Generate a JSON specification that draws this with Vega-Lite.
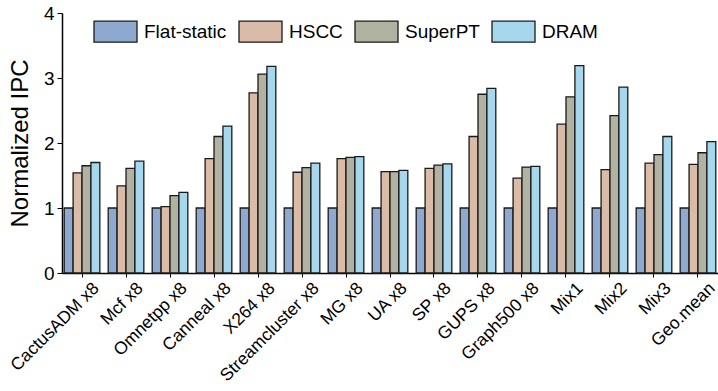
{
  "$schema": "https://vega.github.io/schema/vega-lite/v6.json",
  "autosize": "none",
  "width": 656,
  "height": 260,
  "padding": {"left": 62, "top": 13, "right": 0, "bottom": 118},
  "background": "white",
  "config": {
    "font": "Liberation Sans",
    "view": {"stroke": null}
  },
  "data": {
    "values": [
      {"bench": "CactusADM x8", "scheme": "Flat-static", "ipc": 1.0},
      {"bench": "CactusADM x8", "scheme": "HSCC", "ipc": 1.54},
      {"bench": "CactusADM x8", "scheme": "SuperPT", "ipc": 1.65},
      {"bench": "CactusADM x8", "scheme": "DRAM", "ipc": 1.70},
      {"bench": "Mcf x8", "scheme": "Flat-static", "ipc": 1.0},
      {"bench": "Mcf x8", "scheme": "HSCC", "ipc": 1.34},
      {"bench": "Mcf x8", "scheme": "SuperPT", "ipc": 1.61},
      {"bench": "Mcf x8", "scheme": "DRAM", "ipc": 1.72},
      {"bench": "Omnetpp x8", "scheme": "Flat-static", "ipc": 1.0},
      {"bench": "Omnetpp x8", "scheme": "HSCC", "ipc": 1.02},
      {"bench": "Omnetpp x8", "scheme": "SuperPT", "ipc": 1.19},
      {"bench": "Omnetpp x8", "scheme": "DRAM", "ipc": 1.24},
      {"bench": "Canneal x8", "scheme": "Flat-static", "ipc": 1.0},
      {"bench": "Canneal x8", "scheme": "HSCC", "ipc": 1.76},
      {"bench": "Canneal x8", "scheme": "SuperPT", "ipc": 2.10},
      {"bench": "Canneal x8", "scheme": "DRAM", "ipc": 2.26},
      {"bench": "X264 x8", "scheme": "Flat-static", "ipc": 1.0},
      {"bench": "X264 x8", "scheme": "HSCC", "ipc": 2.77},
      {"bench": "X264 x8", "scheme": "SuperPT", "ipc": 3.06},
      {"bench": "X264 x8", "scheme": "DRAM", "ipc": 3.18},
      {"bench": "Streamcluster x8", "scheme": "Flat-static", "ipc": 1.0},
      {"bench": "Streamcluster x8", "scheme": "HSCC", "ipc": 1.55},
      {"bench": "Streamcluster x8", "scheme": "SuperPT", "ipc": 1.62},
      {"bench": "Streamcluster x8", "scheme": "DRAM", "ipc": 1.69},
      {"bench": "MG x8", "scheme": "Flat-static", "ipc": 1.0},
      {"bench": "MG x8", "scheme": "HSCC", "ipc": 1.76},
      {"bench": "MG x8", "scheme": "SuperPT", "ipc": 1.78},
      {"bench": "MG x8", "scheme": "DRAM", "ipc": 1.79},
      {"bench": "UA x8", "scheme": "Flat-static", "ipc": 1.0},
      {"bench": "UA x8", "scheme": "HSCC", "ipc": 1.56},
      {"bench": "UA x8", "scheme": "SuperPT", "ipc": 1.56},
      {"bench": "UA x8", "scheme": "DRAM", "ipc": 1.58},
      {"bench": "SP x8", "scheme": "Flat-static", "ipc": 1.0},
      {"bench": "SP x8", "scheme": "HSCC", "ipc": 1.61},
      {"bench": "SP x8", "scheme": "SuperPT", "ipc": 1.66},
      {"bench": "SP x8", "scheme": "DRAM", "ipc": 1.68},
      {"bench": "GUPS x8", "scheme": "Flat-static", "ipc": 1.0},
      {"bench": "GUPS x8", "scheme": "HSCC", "ipc": 2.10},
      {"bench": "GUPS x8", "scheme": "SuperPT", "ipc": 2.75},
      {"bench": "GUPS x8", "scheme": "DRAM", "ipc": 2.84},
      {"bench": "Graph500 x8", "scheme": "Flat-static", "ipc": 1.0},
      {"bench": "Graph500 x8", "scheme": "HSCC", "ipc": 1.46},
      {"bench": "Graph500 x8", "scheme": "SuperPT", "ipc": 1.63},
      {"bench": "Graph500 x8", "scheme": "DRAM", "ipc": 1.64},
      {"bench": "Mix1", "scheme": "Flat-static", "ipc": 1.0},
      {"bench": "Mix1", "scheme": "HSCC", "ipc": 2.29},
      {"bench": "Mix1", "scheme": "SuperPT", "ipc": 2.71},
      {"bench": "Mix1", "scheme": "DRAM", "ipc": 3.19},
      {"bench": "Mix2", "scheme": "Flat-static", "ipc": 1.0},
      {"bench": "Mix2", "scheme": "HSCC", "ipc": 1.59},
      {"bench": "Mix2", "scheme": "SuperPT", "ipc": 2.42},
      {"bench": "Mix2", "scheme": "DRAM", "ipc": 2.86},
      {"bench": "Mix3", "scheme": "Flat-static", "ipc": 1.0},
      {"bench": "Mix3", "scheme": "HSCC", "ipc": 1.69},
      {"bench": "Mix3", "scheme": "SuperPT", "ipc": 1.82},
      {"bench": "Mix3", "scheme": "DRAM", "ipc": 2.10},
      {"bench": "Geo.mean", "scheme": "Flat-static", "ipc": 1.0},
      {"bench": "Geo.mean", "scheme": "HSCC", "ipc": 1.67},
      {"bench": "Geo.mean", "scheme": "SuperPT", "ipc": 1.85},
      {"bench": "Geo.mean", "scheme": "DRAM", "ipc": 2.02}
    ]
  },
  "mark": {"type": "bar", "stroke": "#1a1a1a", "strokeWidth": 1.3},
  "encoding": {
    "x": {
      "field": "bench",
      "type": "nominal",
      "sort": null,
      "scale": {"paddingInner": 0.19, "paddingOuter": 0.05},
      "axis": {
        "title": null,
        "labelAngle": -45,
        "labelFontSize": 17.5,
        "labelColor": "black",
        "labelPadding": 2,
        "labelOffset": 8,
        "domainColor": "black",
        "domainWidth": 1.5,
        "tickColor": "black",
        "tickSize": 4
      }
    },
    "xOffset": {
      "field": "scheme",
      "type": "nominal",
      "sort": ["Flat-static", "HSCC", "SuperPT", "DRAM"],
      "scale": {"paddingInner": 0, "paddingOuter": 0}
    },
    "y": {
      "field": "ipc",
      "type": "quantitative",
      "scale": {"domain": [0, 4], "nice": false},
      "axis": {
        "title": "Normalized IPC",
        "titleFontSize": 24,
        "titleFontWeight": "normal",
        "titleColor": "black",
        "titlePadding": 11,
        "values": [0, 1, 2, 3, 4],
        "labelFontSize": 19,
        "labelColor": "black",
        "labelPadding": 3,
        "grid": false,
        "domainColor": "black",
        "domainWidth": 1.5,
        "tickColor": "black",
        "tickSize": 5
      }
    },
    "fill": {
      "field": "scheme",
      "type": "nominal",
      "sort": ["Flat-static", "HSCC", "SuperPT", "DRAM"],
      "scale": {
        "domain": ["Flat-static", "HSCC", "SuperPT", "DRAM"],
        "range": ["#8ea9d0", "#d9bba8", "#b2b2a2", "#a6d7ec"]
      },
      "legend": {
        "title": null,
        "orient": "none",
        "direction": "horizontal",
        "legendX": 31,
        "legendY": -4,
        "symbolType": "M-1,-0.49H1V0.49H-1Z",
        "symbolSize": 1849,
        "symbolStrokeColor": "#1a1a1a",
        "symbolStrokeWidth": 1.3,
        "symbolOpacity": 1,
        "labelFontSize": 19,
        "labelColor": "black",
        "labelOffset": 6,
        "columnPadding": 9
      }
    }
  }
}
